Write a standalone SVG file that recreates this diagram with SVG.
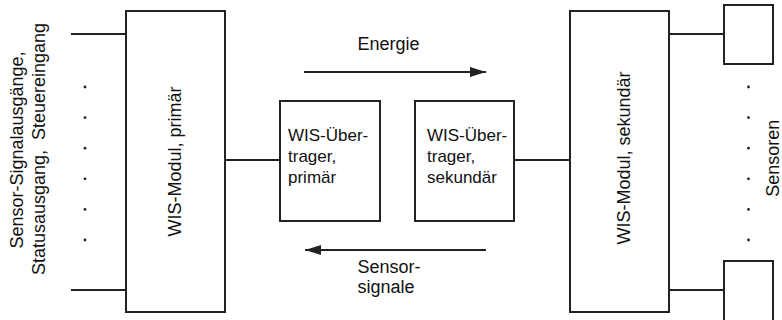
<svg xmlns="http://www.w3.org/2000/svg" width="782" height="320" viewBox="0 0 782 320">
<style>
.box{fill:#fff;stroke:#222;stroke-width:2}
.ln{stroke:#222;stroke-width:2;fill:none}
.t{font-family:"Liberation Sans",Arial,sans-serif;fill:#111}
.t18{font-size:18px}
.t17{font-size:17px}
.dot{fill:#222}
</style>
<defs>
<marker id="ah" viewBox="0 0 16 10" refX="16" refY="5" markerWidth="16" markerHeight="10" markerUnits="userSpaceOnUse" orient="auto">
<path d="M0,0 L16,5 L0,10 Z" fill="#222"/>
</marker>
</defs>
<rect width="782" height="320" fill="#fff"/>
<g id="connectors">
<line class="ln" x1="71" y1="34" x2="126" y2="34"/>
<line class="ln" x1="71" y1="290" x2="126" y2="290"/>
<line class="ln" x1="225" y1="160" x2="280" y2="160"/>
<line class="ln" x1="514" y1="160" x2="570" y2="160"/>
<line class="ln" x1="669" y1="34" x2="724" y2="34"/>
<line class="ln" x1="669" y1="290" x2="724" y2="290"/>
<line class="ln" x1="304" y1="72" x2="486" y2="72" marker-end="url(#ah)"/>
<line class="ln" x1="486" y1="250" x2="305" y2="250" marker-end="url(#ah)"/>
</g>
<g id="inputs-label">
<text class="t t18" text-anchor="middle" transform="translate(23,150) rotate(-90)">Sensor-Signalausgänge,</text>
<text class="t t18" text-anchor="middle" transform="translate(44.5,149) rotate(-90)" xml:space="preserve">Statusausgang,  Steuereingang</text>
</g>
<g id="dots-left">
<circle class="dot" cx="85" cy="87" r="1.4"/>
<circle class="dot" cx="85" cy="117.6" r="1.4"/>
<circle class="dot" cx="85" cy="148.2" r="1.4"/>
<circle class="dot" cx="85" cy="178.8" r="1.4"/>
<circle class="dot" cx="85" cy="209.4" r="1.4"/>
<circle class="dot" cx="85" cy="240" r="1.4"/>
</g>
<g id="modul-primaer">
<rect class="box" x="126" y="11" width="99" height="301"/>
<text class="t t18" text-anchor="middle" transform="translate(181,161.5) rotate(-90)">WIS-Modul, primär</text>
</g>
<g id="uebertrager-primaer">
<rect class="box" x="280" y="101" width="100" height="120"/>
<text class="t t17" x="288" y="141">WIS-Über-</text>
<text class="t t17" x="288" y="162">trager,</text>
<text class="t t17" x="288" y="183">primär</text>
</g>
<g id="uebertrager-sekundaer">
<rect class="box" x="415" y="101" width="99" height="120"/>
<text class="t t17" x="427" y="141">WIS-Über-</text>
<text class="t t17" x="427" y="162">trager,</text>
<text class="t t17" x="427" y="183">sekundär</text>
</g>
<g id="energie-label">
<text class="t t18" x="357.5" y="50">Energie</text>
</g>
<g id="sensorsignale-label">
<text class="t t18" x="357.5" y="273">Sensor-</text>
<text class="t t18" x="357.5" y="292.5">signale</text>
</g>
<g id="modul-sekundaer">
<rect class="box" x="570" y="11" width="99" height="301"/>
<text class="t t18" text-anchor="middle" transform="translate(629.5,158) rotate(-90)">WIS-Modul, sekundär</text>
</g>
<g id="sensor-oben">
<rect class="box" x="724" y="5" width="49" height="59"/>
</g>
<g id="sensor-unten">
<rect class="box" x="724" y="261" width="49" height="70"/>
</g>
<g id="dots-right">
<circle class="dot" cx="748.5" cy="87" r="1.4"/>
<circle class="dot" cx="748.5" cy="117.6" r="1.4"/>
<circle class="dot" cx="748.5" cy="148.2" r="1.4"/>
<circle class="dot" cx="748.5" cy="178.8" r="1.4"/>
<circle class="dot" cx="748.5" cy="209.4" r="1.4"/>
<circle class="dot" cx="748.5" cy="240" r="1.4"/>
</g>
<g id="sensoren-label">
<text class="t t18" text-anchor="middle" transform="translate(778.5,158.3) rotate(-90)">Sensoren</text>
</g>
</svg>
